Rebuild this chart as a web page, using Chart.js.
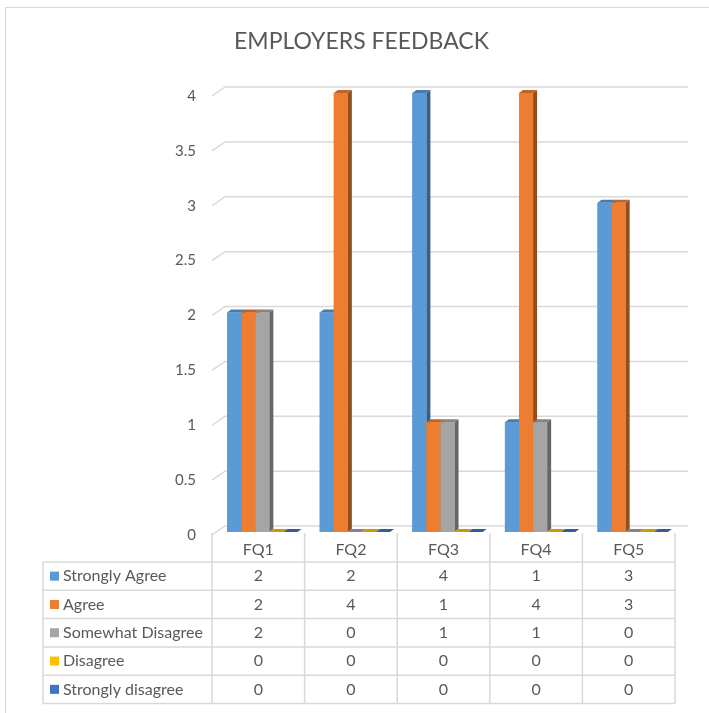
<!DOCTYPE html>
<html>
<head>
<meta charset="utf-8">
<script src="https://cdn.jsdelivr.net/npm/chart.js@4/dist/chart.umd.min.js"></script>
<style>
  html, body { margin: 0; padding: 0; background: #fff; }
  #wrap { width: 709px; height: 713px; }
</style>
</head>
<body>
<div id="wrap"><canvas id="myChart" width="709" height="713"></canvas></div>
<script>
// chart data
const categories = ["FQ1", "FQ2", "FQ3", "FQ4", "FQ5"];
const seriesNames = ["Strongly Agree", "Agree", "Somewhat Disagree", "Disagree", "Strongly disagree"];
const stronglyAgree = [2, 2, 4, 1, 3];
const agree = [2, 4, 1, 4, 3];
const somewhatDisagree = [2, 0, 1, 1, 0];
const disagree = [0, 0, 0, 0, 0];
const stronglyDisagree = [0, 0, 0, 0, 0];
const yTicks = [0, 0.5, 1, 1.5, 2, 2.5, 3, 3.5, 4];

const seriesValues = [stronglyAgree, agree, somewhatDisagree, disagree, stronglyDisagree];
const colors = ["#5B9BD5", "#ED7D31", "#A5A5A5", "#FFC000", "#4472C4"];
const textColor = "#595959";
const lineColor = "#d9d9d9";
const fontFamily = "Lato, 'Open Sans', sans-serif";

Chart.defaults.font.family = fontFamily;

function shade(hex, f) {
    let n = parseInt(hex.slice(1), 16);
    let r = Math.round(((n >> 16) & 255) * f);
    let g = Math.round(((n >> 8) & 255) * f);
    let b = Math.round((n & 255) * f);
    return `rgb(${r},${g},${b})`;
}

// fake excel 3d look: back wall grid, bar sides/tops, data table
const barDx = 4, barDy = 3;
const excel3d = {
    id: "excel3d",
    beforeDraw(chart) {
        const ctx = chart.ctx;
        ctx.save();
        ctx.fillStyle = "#fff";
        ctx.fillRect(0, 0, chart.width, chart.height);
        ctx.strokeStyle = lineColor;
        ctx.lineWidth = 1;
        ctx.strokeRect(5.5, 7.5, 740, 740);
        ctx.restore();
    },
    beforeDatasetsDraw(chart) {
        const ctx = chart.ctx;
        const area = chart.chartArea;
        const y = chart.scales.y;
        ctx.save();
        ctx.strokeStyle = lineColor;
        ctx.lineWidth = 1.5;
        yTicks.forEach((v) => {
            const py = y.getPixelForValue(v);
            ctx.beginPath();
            ctx.moveTo(area.left - 4, py + 3);
            ctx.lineTo(area.left + 9, py - 6);
            ctx.lineTo(area.right + 9, py - 6);
            ctx.stroke();
        });
        ctx.restore();
    },
    afterDatasetsDraw(chart) {
        const ctx = chart.ctx;
        ctx.save();
        chart.data.datasets.forEach((ds, i) => {
            const meta = chart.getDatasetMeta(i);
            meta.data.forEach((bar) => {
                const p = bar.getProps(["x", "y", "base", "width"], true);
                const l = p.x - p.width / 2, r = p.x + p.width / 2;
                ctx.fillStyle = shade(colors[i], 0.62);
                ctx.beginPath();
                ctx.moveTo(r, p.y);
                ctx.lineTo(r + barDx, p.y - barDy);
                ctx.lineTo(r + barDx, p.base - barDy);
                ctx.lineTo(r, p.base);
                ctx.closePath();
                ctx.fill();
                ctx.fillStyle = shade(colors[i], 0.8);
                ctx.beginPath();
                ctx.moveTo(l, p.y);
                ctx.lineTo(l + barDx, p.y - barDy);
                ctx.lineTo(r + barDx, p.y - barDy);
                ctx.lineTo(r, p.y);
                ctx.closePath();
                ctx.fill();
                ctx.fillStyle = colors[i];
                ctx.fillRect(l, p.y, p.width, p.base - p.y);
            });
        });
        ctx.restore();
    },
    afterDraw(chart) {
        const ctx = chart.ctx;
        const area = chart.chartArea;
        const catW = (area.right - area.left) / categories.length;
        const x0 = area.left - 4;
        const tableLeft = 43;
        const rowTop = 562, rowH = 28.3;
        const rows = seriesNames.length;
        const bottom = rowTop + rows * rowH;
        ctx.save();
        ctx.strokeStyle = lineColor;
        ctx.lineWidth = 1.5;
        ctx.beginPath();
        for (let k = 0; k <= categories.length; k++) {
            const x = x0 + k * catW;
            ctx.moveTo(x, area.bottom + 1);
            ctx.lineTo(x, bottom);
        }
        ctx.moveTo(tableLeft, rowTop);
        ctx.lineTo(tableLeft, bottom);
        for (let r = 0; r <= rows; r++) {
            const y = rowTop + r * rowH;
            ctx.moveTo(tableLeft, y);
            ctx.lineTo(x0 + categories.length * catW, y);
        }
        ctx.stroke();

        ctx.font = "16px " + fontFamily;
        ctx.textBaseline = "middle";
        seriesNames.forEach((name, r) => {
            const cy = rowTop + r * rowH + rowH / 2;
            ctx.fillStyle = colors[r];
            ctx.fillRect(50, cy - 4.5, 9, 9);
            ctx.fillStyle = textColor;
            ctx.textAlign = "left";
            ctx.fillText(name, 63, cy);
            ctx.textAlign = "center";
            seriesValues[r].forEach((v, k) => {
                ctx.fillText(String(v), x0 + k * catW + catW / 2, cy);
            });
        });
        ctx.restore();
    }
};

const datasets = seriesNames.map((name, i) => ({
    label: name,
    data: seriesValues[i],
    backgroundColor: colors[i],
    categoryPercentage: 0.76,
    barPercentage: 1.0,
}));

var ctx = document.getElementById("myChart").getContext("2d");
var myChart = new Chart(ctx, {
    type: "bar",
    data: { labels: categories, datasets: datasets },
    plugins: [excel3d],
    options: {
        responsive: false,
        animation: false,
        layout: { padding: { left: 44, right: 30, top: 0, bottom: 0 } },
        plugins: {
            legend: { display: false },
            tooltip: { enabled: false },
            title: {
                display: true,
                text: "EMPLOYERS FEEDBACK",
                color: textColor,
                font: { size: 23, weight: "normal", family: fontFamily },
                padding: { top: 28, bottom: 37.4 },
            },
        },
        scales: {
            x: {
                grid: { display: false, drawTicks: false },
                border: { display: false },
                ticks: { color: textColor, font: { size: 16 }, padding: 8, labelOffset: -4 },
                afterFit(scale) { scale.height = 181; },
            },
            y: {
                min: 0,
                max: 4,
                grid: { display: false, drawTicks: false },
                border: { display: false },
                afterBuildTicks(scale) { scale.ticks = yTicks.map((v) => ({ value: v })); },
                ticks: {
                    color: textColor,
                    font: { size: 15 },
                    padding: 20,
                    labelOffset: 3,
                    callback: (v) => String(v),
                },
                afterFit(scale) { scale.width = 172; },
            },
        },
    },
});
</script>
</body>
</html>
